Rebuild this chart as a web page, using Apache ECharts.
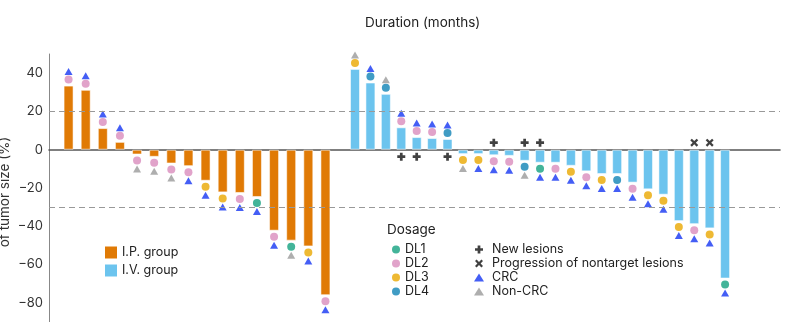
<!DOCTYPE html>
<html>
<head>
<meta charset="utf-8">
<script src="https://cdn.jsdelivr.net/npm/echarts@6/dist/echarts.min.js"></script>
<style>
    html, body { margin: 0; padding: 0; background: #fff; }
    #chart { width: 792px; height: 322px; }
</style>
</head>
<body>
<div id="chart"></div>
<script>
// best change of tumor size (%), one value per patient, sorted like the figure
const ipChange = [33.5, 31.3, 11.3, 4.1, -2.5, -3.7, -7.2, -8.6, -16.2, -22.3, -22.6, -24.7, -42.3, -47.5, -50.5, -76];
const ipDose = ['DL2', 'DL2', 'DL2', 'DL2', 'DL2', 'DL2', 'DL2', 'DL2', 'DL3', 'DL3', 'DL2', 'DL1', 'DL2', 'DL1', 'DL3', 'DL2'];
const ipTumor = ['CRC', 'CRC', 'CRC', 'CRC', 'Non-CRC', 'Non-CRC', 'Non-CRC', 'CRC', 'CRC', 'CRC', 'CRC', 'CRC', 'CRC', 'Non-CRC', 'CRC', 'CRC'];
const ipEvent = ['', '', '', '', '', '', '', '', '', '', '', '', '', '', '', ''];

const ivChange = [42.2, 35.1, 29.2, 11.7, 6.6, 6.1, 5.6, -2.3, -2.3, -2.9, -3.2, -5.8, -6.8, -6.8, -8.4, -11.3, -12.7, -12.7, -17.2, -20.7, -23.5, -37.3, -38.9, -41.1, -67.3];
const ivDose = ['DL3', 'DL4', 'DL4', 'DL2', 'DL2', 'DL2', 'DL4', 'DL3', 'DL3', 'DL2', 'DL2', 'DL4', 'DL1', 'DL2', 'DL3', 'DL2', 'DL3', 'DL4', 'DL2', 'DL3', 'DL3', 'DL3', 'DL2', 'DL3', 'DL1'];
const ivTumor = ['Non-CRC', 'CRC', 'Non-CRC', 'CRC', 'CRC', 'CRC', 'CRC', 'Non-CRC', 'CRC', 'CRC', 'CRC', 'Non-CRC', 'CRC', 'CRC', 'CRC', 'CRC', 'CRC', 'CRC', 'CRC', 'CRC', 'CRC', 'CRC', 'CRC', 'CRC', 'CRC'];
const ivEvent = ['', '', '', 'new', 'new', '', 'new', '', '', 'new', '', 'new', 'new', '', '', '', '', '', '', '', '', '', 'prog', 'prog', ''];

const doseLevels = ['DL1', 'DL2', 'DL3', 'DL4'];
const tumorTypes = ['CRC', 'Non-CRC'];
const yTicks = [40, 20, 0, -20, -40, -60, -80];
const refLines = [20, -30];

;(function () {
    const FONT = 'Inter, Roboto, sans-serif';
    const doseColor = { DL1: '#14a17f', DL2: '#d98cbd', DL3: '#eaa800', DL4: '#1083b5' };
    const tumorColor = { 'CRC': '#1536f2', 'Non-CRC': '#9a9a9a' };
    const PLUS = 'path://M3.3,0H6.7V3.3H10V6.7H6.7V10H3.3V6.7H0V3.3H3.3Z';
    const CROSS = 'path://M2,0L5,3L8,0L10,2L7,5L10,8L8,10L5,7L2,10L0,8L3,5L0,2Z';
    const eventInfo = {
        'new': { name: 'New lesions', symbol: PLUS },
        'prog': { name: 'Progression of nontarget lesions', symbol: CROSS }
    };

    const chart = echarts.init(document.getElementById('chart'));

    const GRID_TOP = 54, GRID_H = 270;
    const yRange = { min: -90, max: 50 };

    function groupSeries(idx, name, color, changes, doses, tumors, events) {
        const cats = changes.map((v, i) => name + i);
        const out = [];
        out.push({
            type: 'bar', name: name, xAxisIndex: idx, yAxisIndex: idx,
            barWidth: 10,
            itemStyle: { color: color, borderColor: 'rgba(255,255,255,0.55)', borderWidth: 1 },
            data: changes.map((v, i) => [cats[i], v]),
            z: 2
        });
        doseLevels.forEach(level => {
            out.push({
                type: 'scatter', name: level, xAxisIndex: idx, yAxisIndex: idx,
                symbol: 'circle', symbolSize: 8,
                itemStyle: { color: doseColor[level] },
                data: changes.map((v, i) => doses[i] === level
                    ? { value: [cats[i], v], symbolOffset: [0, v > 0 ? -6 : 6] }
                    : null).filter(d => d),
                z: 3
            });
        });
        tumorTypes.forEach(t => {
            out.push({
                type: 'scatter', name: t, xAxisIndex: idx, yAxisIndex: idx,
                symbol: 'triangle', symbolSize: [8, 7],
                itemStyle: { color: tumorColor[t] },
                data: changes.map((v, i) => tumors[i] === t
                    ? { value: [cats[i], v], symbolOffset: [0, v > 0 ? -14 : 14.5] }
                    : null).filter(d => d),
                z: 3
            });
        });
        Object.keys(eventInfo).forEach(key => {
            out.push({
                type: 'scatter', name: eventInfo[key].name, xAxisIndex: idx, yAxisIndex: idx,
                symbol: eventInfo[key].symbol, symbolSize: 8,
                itemStyle: { color: '#111' },
                data: changes.map((v, i) => events[i] === key
                    ? { value: [cats[i], 0], symbolOffset: [0, v > 0 ? 7 : -7] }
                    : null).filter(d => d),
                z: 3
            });
        });
        return { cats: cats, series: out };
    }

    const ip = groupSeries(1, 'I.P. group', '#e07a05', ipChange, ipDose, ipTumor, ipEvent);
    const iv = groupSeries(2, 'I.V. group', '#6cc4ee', ivChange, ivDose, ivTumor, ivEvent);

    function hiddenY(idx) {
        return { type: 'value', gridIndex: idx, min: yRange.min, max: yRange.max, show: false };
    }
    function hiddenX(idx, cats) {
        return { type: 'category', gridIndex: idx, data: cats, show: false };
    }

    const legendText = { fontFamily: FONT, fontSize: 12.5, color: '#222' };

    const option = {
        animation: false,
        textStyle: { fontFamily: FONT },
        title: {
            text: 'Duration (months)', left: 360, top: 11,
            textStyle: { fontFamily: FONT, fontSize: 13.5, fontWeight: 'normal', color: '#222' }
        },
        grid: [
            { left: 49, right: 12, top: GRID_TOP, height: GRID_H },
            { left: 60, width: 274, top: GRID_TOP, height: GRID_H },
            { left: 347.3, width: 385.5, top: GRID_TOP, height: GRID_H }
        ],
        xAxis: [
            {
                type: 'value', gridIndex: 0, min: 0, max: 1,
                axisLine: { show: true, onZero: true, lineStyle: { color: '#555', width: 1.6 } },
                axisTick: { show: false }, axisLabel: { show: false }, splitLine: { show: false }
            },
            hiddenX(1, ip.cats),
            hiddenX(2, iv.cats)
        ],
        yAxis: [
            {
                type: 'value', gridIndex: 0, min: yRange.min, max: yRange.max, interval: 10,
                axisLine: { show: true, lineStyle: { color: '#888', width: 1 } },
                axisTick: { show: false },
                splitLine: { show: false },
                axisLabel: {
                    margin: 6, fontFamily: FONT, fontSize: 13, color: '#333',
                    formatter: v => yTicks.indexOf(v) >= 0 ? String(v).replace('-', '\u2212') : ''
                }
            },
            hiddenY(1),
            hiddenY(2)
        ],
        legend: [
            {
                data: ['I.P. group', 'I.V. group'], orient: 'vertical', left: 100, top: 241,
                icon: 'rect', itemWidth: 12, itemHeight: 12, itemGap: 5,
                itemStyle: { borderWidth: 0 },
                selectedMode: false, textStyle: legendText
            },
            {
                data: doseLevels, orient: 'vertical', left: 387, top: 238,
                itemWidth: 8, itemHeight: 8, itemGap: 1,
                selectedMode: false, textStyle: legendText
            },
            {
                data: ['New lesions', 'Progression of nontarget lesions', 'CRC', 'Non-CRC'],
                orient: 'vertical', left: 469, top: 238,
                itemWidth: 10, itemHeight: 8, itemGap: 1,
                selectedMode: false, textStyle: Object.assign({ padding: [0, 0, 0, 3] }, legendText)
            }
        ],
        graphic: [
            {
                type: 'text', left: 387, top: 223,
                style: { text: 'Dosage', fontFamily: FONT, fontSize: 13.5, fill: '#222' }
            },
            {
                // y-axis title, partly cut by the left edge as in the figure
                type: 'text', x: 5, y: 192, rotation: Math.PI / 2,
                style: {
                    text: 'of tumor size (%)', fontFamily: FONT, fontSize: 13.5, fill: '#333',
                    align: 'center', verticalAlign: 'middle'
                }
            }
        ],
        series: [
            {
                type: 'line', xAxisIndex: 0, yAxisIndex: 0, data: [[0, 0]],
                symbol: 'none', lineStyle: { opacity: 0 }, silent: true,
                markLine: {
                    silent: true, symbol: 'none', label: { show: false },
                    lineStyle: { color: '#999', type: [6, 4], width: 1 },
                    data: refLines.map(v => ({ yAxis: v }))
                }
            }
        ].concat(ip.series, iv.series)
    };

    chart.setOption(option);
})();
</script>
</body>
</html>
